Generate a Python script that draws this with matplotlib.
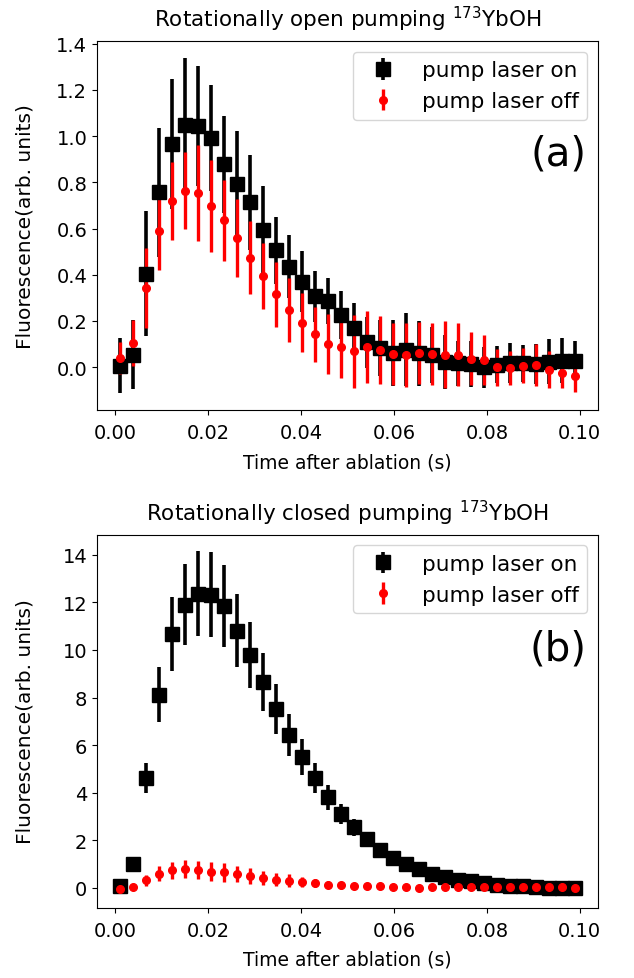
import matplotlib
matplotlib.use("Agg")
import matplotlib.pyplot as plt

# time bins (s)
time = [0.0010, 0.0038, 0.0066, 0.0094, 0.0122, 0.0150, 0.0178, 0.0206, 0.0234,
        0.0262, 0.0290, 0.0318, 0.0346, 0.0374, 0.0402, 0.0430, 0.0458, 0.0486,
        0.0514, 0.0542, 0.0570, 0.0598, 0.0626, 0.0654, 0.0682, 0.0710, 0.0738,
        0.0766, 0.0794, 0.0822, 0.0850, 0.0878, 0.0906, 0.0934, 0.0962, 0.0990]

# (a) rotationally open pumping
open_on = [0.006, 0.053, 0.405, 0.757, 0.966, 1.049, 1.042, 0.991, 0.879, 0.793,
           0.714, 0.592, 0.506, 0.434, 0.369, 0.307, 0.286, 0.226, 0.168, 0.108,
           0.082, 0.060, 0.075, 0.060, 0.053, 0.024, 0.017, 0.013, -0.001, 0.010,
           0.017, 0.017, 0.013, 0.024, 0.027, 0.027]
open_on_err = [0.12, 0.15, 0.27, 0.28, 0.28, 0.29, 0.26, 0.23, 0.21, 0.23,
               0.205, 0.19, 0.146, 0.136, 0.132, 0.11, 0.098, 0.105, 0.108, 0.11,
               0.12, 0.143, 0.158, 0.14, 0.12, 0.117, 0.097, 0.10, 0.09, 0.08,
               0.086, 0.08, 0.085, 0.096, 0.098, 0.084]
open_off = [0.039, 0.103, 0.343, 0.589, 0.718, 0.764, 0.753, 0.697, 0.635, 0.559,
            0.474, 0.394, 0.315, 0.247, 0.193, 0.142, 0.100, 0.089, 0.068, 0.089,
            0.075, 0.056, 0.053, 0.060, 0.056, 0.053, 0.053, 0.036, 0.031, -0.001,
            -0.004, 0.006, 0.010, -0.012, -0.026, -0.040]
open_off_err = [0.07, 0.10, 0.172, 0.17, 0.169, 0.167, 0.208, 0.20, 0.176, 0.167,
                0.158, 0.142, 0.14, 0.14, 0.127, 0.12, 0.13, 0.138, 0.157, 0.156,
                0.148, 0.134, 0.14, 0.135, 0.133, 0.145, 0.137, 0.115, 0.108, 0.08,
                0.072, 0.075, 0.09, 0.08, 0.065, 0.07]

# (b) rotationally closed pumping
closed_on = [0.10, 1.00, 4.63, 8.12, 10.66, 11.91, 12.36, 12.32, 11.84, 10.81,
             9.78, 8.64, 7.52, 6.43, 5.51, 4.63, 3.81, 3.11, 2.55, 2.05,
             1.60, 1.25, 1.00, 0.78, 0.58, 0.45, 0.35, 0.28, 0.21, 0.14,
             0.10, 0.07, 0.03, 0.00, 0.00, 0.00]
closed_on_err = [0.05, 0.10, 0.62, 1.16, 1.55, 1.72, 1.78, 1.78, 1.72, 1.54,
                 1.38, 1.22, 1.05, 0.88, 0.76, 0.64, 0.52, 0.42, 0.36, 0.30,
                 0.24, 0.20, 0.16, 0.13, 0.11, 0.09, 0.08, 0.07, 0.06, 0.05,
                 0.05, 0.04, 0.04, 0.04, 0.04, 0.04]
closed_off = [-0.04, 0.03, 0.32, 0.60, 0.74, 0.78, 0.75, 0.69, 0.65, 0.57,
              0.50, 0.42, 0.35, 0.31, 0.25, 0.21, 0.14, 0.11, 0.07, 0.07,
              0.07, 0.04, 0.03, 0.01, 0.04, 0.04, 0.04, 0.04, 0.03, 0.04,
              0.04, 0.04, 0.03, 0.03, 0.03, 0.01]
closed_off_err = [0.04, 0.06, 0.24, 0.32, 0.37, 0.38, 0.39, 0.38, 0.38, 0.34,
                  0.32, 0.31, 0.28, 0.26, 0.20, 0.18, 0.15, 0.14, 0.12, 0.11,
                  0.10, 0.10, 0.12, 0.12, 0.08, 0.08, 0.08, 0.08, 0.07, 0.07,
                  0.07, 0.07, 0.06, 0.06, 0.06, 0.06]

fig = plt.figure(figsize=(6.34, 9.79), dpi=100)
ax_a = fig.add_axes([0.153, 0.580, 0.790, 0.377])
ax_b = fig.add_axes([0.153, 0.072, 0.790, 0.381])

panels = [
    (ax_a, open_on, open_on_err, open_off, open_off_err, "Rotationally open pumping $^{173}$YbOH", "(a)", 11),
    (ax_b, closed_on, closed_on_err, closed_off, closed_off_err, "Rotationally closed pumping $^{173}$YbOH", "(b)", 10),
]

for ax, on, on_err, off, off_err, title, tag, tpad in panels:
    ax.errorbar(time, on, yerr=on_err, fmt='s', color='black', markersize=10.5,
                elinewidth=2.6, label='pump laser on')
    ax.errorbar(time, off, yerr=off_err, fmt='o', color='red', markersize=5.5,
                elinewidth=2.4, label='pump laser off')
    ax.set_title(title, fontsize=15.5, pad=tpad)
    ax.set_xlabel('Time after ablation (s)', fontsize=13.5, labelpad=7)
    ax.set_ylabel('Fluorescence(arb. units)', fontsize=14.5)
    ax.yaxis.set_label_coords(-0.124, 0.5)
    ax.tick_params(labelsize=14)
    ax.tick_params(axis='x', pad=6)
    ax.set_xticks([0.00, 0.02, 0.04, 0.06, 0.08, 0.10])
    ax.legend(loc='upper right', fontsize=15.5)
    ax.text(0.977, 0.695, tag, transform=ax.transAxes, ha='right', va='center',
            fontsize=29)

ax_a.set_yticks([0.0, 0.2, 0.4, 0.6, 0.8, 1.0, 1.2, 1.4])
ax_b.set_yticks([0, 2, 4, 6, 8, 10, 12, 14])

plt.savefig('out.png', dpi=100)
print('Saved chart as out.png')
